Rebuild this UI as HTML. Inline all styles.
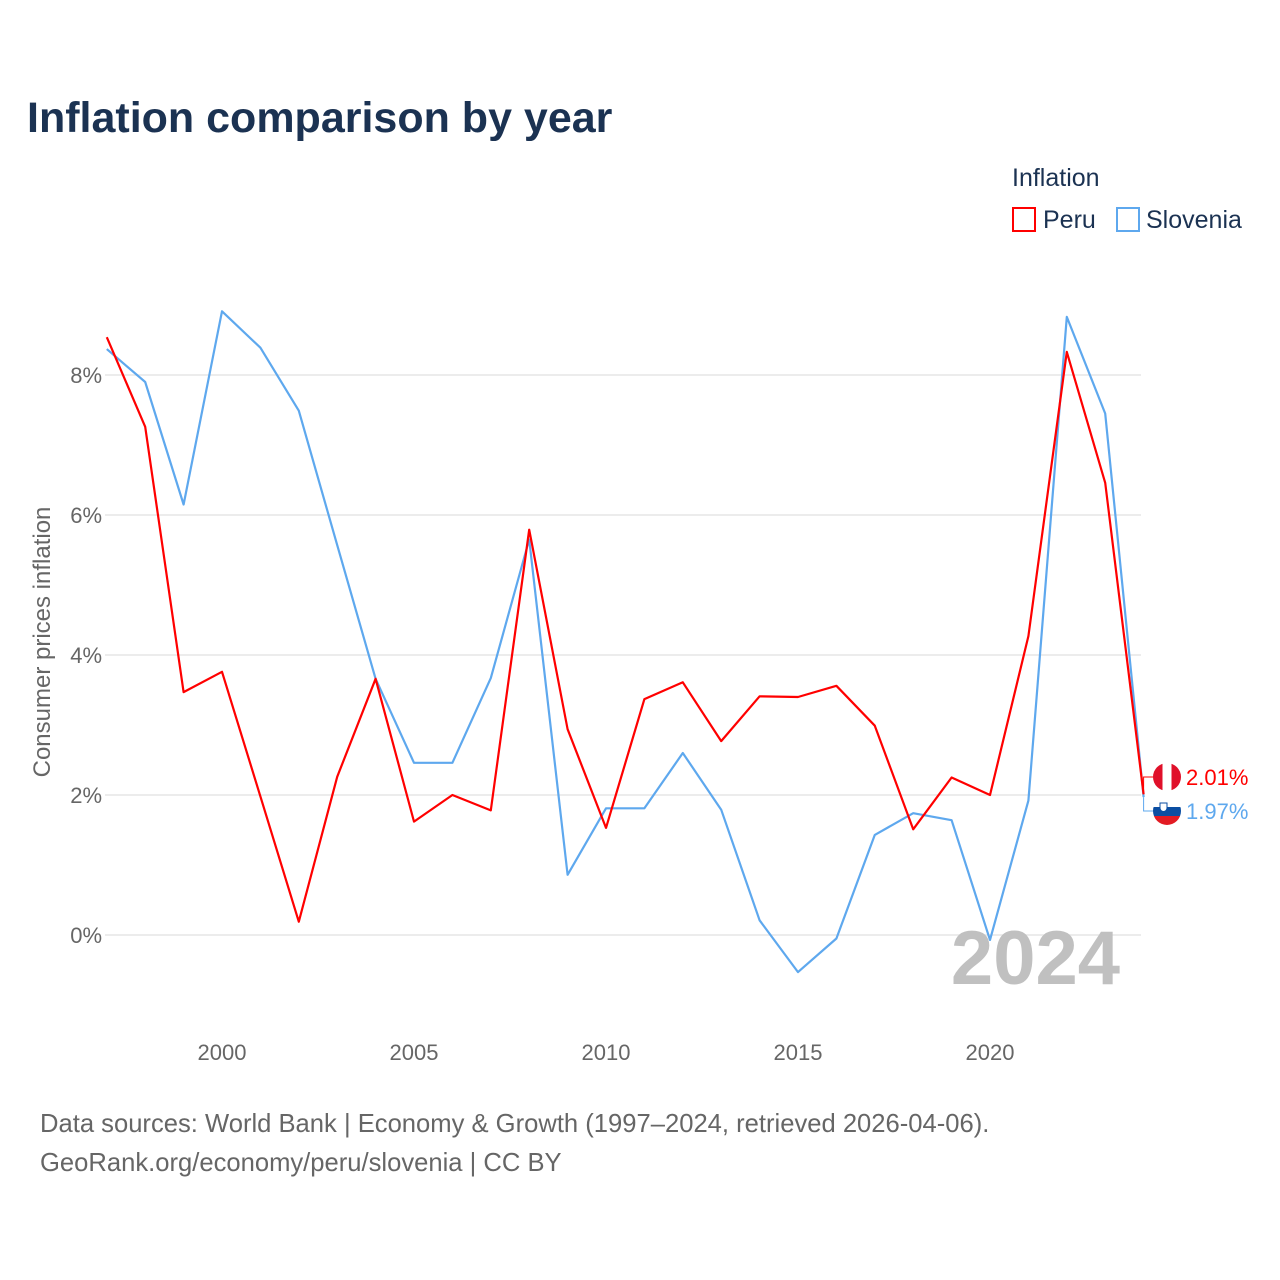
<!DOCTYPE html>
<html><head><meta charset="utf-8"><style>
body{margin:0;background:#fff;}
svg{display:block;font-family:"Liberation Sans",sans-serif;}
</style></head><body>
<svg id="chart" width="1280" height="1280" viewBox="0 0 1280 1280" xmlns="http://www.w3.org/2000/svg">
<defs>
<clipPath id="clp"><circle cx="1167" cy="777" r="14"/></clipPath>
<clipPath id="cls"><circle cx="1167" cy="811" r="14"/></clipPath>
</defs>
<rect width="1280" height="1280" fill="#fff"/>
<text x="27" y="132" font-size="43" font-weight="bold" fill="#1b3252">Inflation comparison by year</text>
<text x="1012" y="186" font-size="25" fill="#1b3252">Inflation</text>
<g><rect x="1013" y="208" width="22" height="23" fill="none" stroke="#f00" stroke-width="2"/><text x="1043" y="228" font-size="25" fill="#1b3252">Peru</text></g>
<g><rect x="1117" y="208" width="22" height="23" fill="none" stroke="#5ea8ee" stroke-width="2"/><text x="1146" y="228" font-size="25" fill="#1b3252">Slovenia</text></g>
<g id="grid"></g>
<g id="xt"></g>
<text transform="translate(50,642) rotate(-90)" text-anchor="middle" font-size="24" fill="#666">Consumer prices inflation</text>
<text x="1120" y="984" text-anchor="end" font-size="76" font-weight="bold" fill="#c0c0c0">2024</text>
<g id="series"></g>
<text x="40" y="1132" font-size="25.6" fill="#666">Data sources: World Bank | Economy &amp; Growth (1997–2024, retrieved 2026-04-06).</text>
<text x="40" y="1171" font-size="25.6" fill="#666">GeoRank.org/economy/peru/slovenia | CC BY</text>
</svg>
<script>
const years=[1997,1998,1999,2000,2001,2002,2003,2004,2005,2006,2007,2008,2009,2010,2011,2012,2013,2014,2015,2016,2017,2018,2019,2020,2021,2022,2023,2024];
const peru=[8.54,7.26,3.47,3.76,1.98,0.19,2.26,3.66,1.62,2.00,1.78,5.79,2.94,1.53,3.37,3.61,2.77,3.41,3.40,3.56,2.99,1.51,2.25,2.00,4.27,8.33,6.46,2.01];
const slovenia=[8.37,7.90,6.15,8.91,8.39,7.49,5.57,3.66,2.46,2.46,3.67,5.65,0.86,1.81,1.81,2.60,1.79,0.21,-0.53,-0.05,1.43,1.74,1.64,-0.07,1.92,8.83,7.45,1.97];
const yTicks=[0,2,4,6,8];
const xTicks=[2000,2005,2010,2015,2020];
const NS="http://www.w3.org/2000/svg";
const x=y=>222+(y-2000)*38.4;
const yv=v=>935-v*70;
function mk(t,a,p){const e=document.createElementNS(NS,t);for(const k in a)e.setAttribute(k,a[k]);p.appendChild(e);return e;}
const grid=document.getElementById('grid');
yTicks.forEach(t=>{
 const l=mk('line',{x1:105,x2:1141,y1:yv(t),y2:yv(t),stroke:'#e6e6e6','stroke-width':1.5},grid);
 
 
 const tx=mk('text',{x:102,y:yv(t)+8,'text-anchor':'end','font-size':22,fill:'#666'},grid);
 tx.textContent=t+'%';
 
 
});
const xt=document.getElementById('xt');
xTicks.forEach(t=>{
 const tx=mk('text',{x:x(t),y:1060,'text-anchor':'middle','font-size':22,fill:'#666'},xt);
 tx.textContent=t;
 
 
});
const s=document.getElementById('series');
function line(vals,col,name){
 const p=mk('polyline',{points:vals.map((v,i)=>x(years[i])+','+yv(v)).join(' '),fill:'none',stroke:col,'stroke-width':2.2,'stroke-linejoin':'round'},s);
 
 
}
line(slovenia,'#5ea8ee','slovenia-line');
line(peru,'#f00','peru-line');
const lx=x(years[years.length-1]);
const pv=peru[peru.length-1], sv=slovenia[slovenia.length-1];
const py=777, sy=811;
mk('polyline',{points:`${lx},${yv(pv)} ${lx},${py} ${lx+10},${py}`,fill:'none',stroke:'#f00','stroke-width':1},s);
mk('polyline',{points:`${lx},${yv(sv)} ${lx},${sy} ${lx+10},${sy}`,fill:'none',stroke:'#5ea8ee','stroke-width':1},s);
const pf=mk('g',{'clip-path':'url(#clp)'},s);


mk('rect',{x:1153,y:py-14,width:28,height:28,fill:'#fff'},pf);
mk('rect',{x:1153,y:py-14,width:9.5,height:28,fill:'#e0102a'},pf);
mk('rect',{x:1171.5,y:py-14,width:9.5,height:28,fill:'#e0102a'},pf);
const pt=mk('text',{x:1186,y:py+8,'font-size':22,fill:'#f00'},s);
pt.textContent=pv.toFixed(2)+'%';


const sf=mk('g',{'clip-path':'url(#cls)'},s);


mk('rect',{x:1153,y:sy-14,width:28,height:10,fill:'#fff'},sf);
mk('rect',{x:1153,y:sy-4,width:28,height:9,fill:'#0b4ea2'},sf);
mk('rect',{x:1153,y:sy+5,width:28,height:9,fill:'#e21b23'},sf);
mk('path',{d:`M1160,${sy-8} h7 v5 a3.5,3.5 0 0 1 -7,0 Z`,fill:'#fff',stroke:'#0b4ea2','stroke-width':1},sf);
const st=mk('text',{x:1186,y:sy+8,'font-size':22,fill:'#5ea8ee'},s);
st.textContent=sv.toFixed(2)+'%';


</script>
</body></html>
